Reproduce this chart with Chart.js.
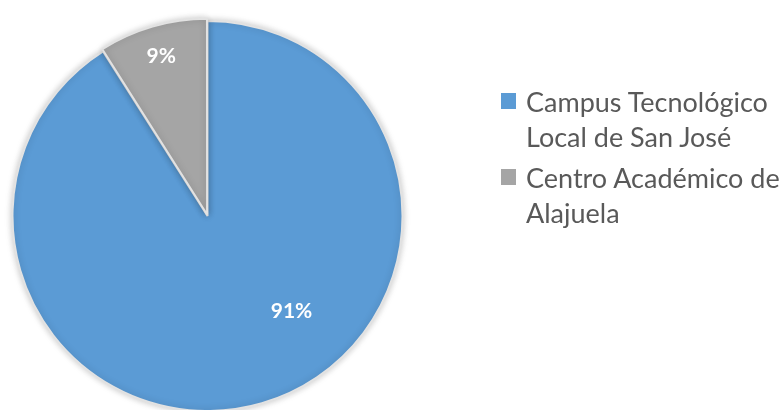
<!DOCTYPE html>
<html>
<head>
<meta charset="utf-8">
<script src="https://cdn.jsdelivr.net/npm/chart.js@4.4.1/dist/chart.umd.min.js"></script>
<style>
  html, body { margin: 0; padding: 0; background: #fff; }
  #wrap { position: relative; width: 783px; height: 410px; overflow: hidden; }
  #c { position: absolute; left: 0; top: 0; }
  #legend { position: absolute; left: 501px; top: 84px; font-family: Lato, "Open Sans", sans-serif; font-size: 27px; color: #595959; line-height: 35px; white-space: nowrap; }
  .item { position: relative; padding-left: 25px; margin-bottom: 6px; }
  .sw { position: absolute; left: 0; top: 9px; width: 15px; height: 16px; }
</style>
</head>
<body>
<div id="wrap">
  <canvas id="c" width="783" height="410"></canvas>
  <div id="legend"></div>
</div>
<script>
const categories = ["Campus Tecnológico Local de San José", "Centro Académico de Alajuela"];
const legendLines = [["Campus Tecnológico", "Local de San José"], ["Centro Académico de", "Alajuela"]];
const percentages = [91, 9];
const colors = ["#5b9bd5", "#a5a5a5"];

const legend = document.getElementById('legend');
categories.forEach((cat, i) => {
  const d = document.createElement('div');
  d.className = 'item';
  d.innerHTML = '<span class="sw" style="background:' + colors[i] + '"></span>' + legendLines[i].join('<br>');
  legend.appendChild(d);
});

const labelPlacement = [ { r: 0.65, dAngle: -25.3 }, { r: 0.82, dAngle: 0 } ];

const shadow = {
  id: 'shadow',
  beforeDatasetDraw(chart) {
    const ctx = chart.ctx;
    ctx.save();
    ctx.shadowColor = 'rgba(0,0,0,0.22)';
    ctx.shadowBlur = 7;
  },
  afterDatasetDraw(chart) {
    chart.ctx.restore();
  }
};

const pctLabels = {
  id: 'pctLabels',
  afterDatasetsDraw(chart) {
    const ctx = chart.ctx;
    const meta = chart.getDatasetMeta(0);
    ctx.save();
    ctx.fillStyle = '#ffffff';
    ctx.font = 'bold 21px Lato, "Open Sans", sans-serif';
    ctx.textAlign = 'center';
    ctx.textBaseline = 'middle';
    meta.data.forEach((arc, i) => {
      const p = arc.getProps(['x', 'y', 'startAngle', 'endAngle', 'outerRadius'], true);
      const mid = (p.startAngle + p.endAngle) / 2;
      const off = arc.options.offset || 0;
      const cx = p.x + Math.cos(mid) * off;
      const cy = p.y + Math.sin(mid) * off;
      const a = mid + labelPlacement[i].dAngle * Math.PI / 180;
      const rr = p.outerRadius * labelPlacement[i].r;
      ctx.fillText(percentages[i] + '%', cx + Math.cos(a) * rr, cy + Math.sin(a) * rr);
    });
    ctx.restore();
  }
};

new Chart(document.getElementById('c'), {
  type: 'pie',
  data: {
    labels: categories,
    datasets: [{
      data: percentages,
      backgroundColor: colors,
      borderColor: '#e2e2e2',
      borderWidth: 2,
      offset: [0, 6],
      hoverOffset: 0,
      clip: false
    }]
  },
  options: {
    responsive: false,
    animation: false,
    radius: 195,
    rotation: 0,
    layout: { padding: { left: 0, right: 368, top: 22, bottom: 0 } },
    plugins: { legend: { display: false }, tooltip: { enabled: false } }
  },
  plugins: [shadow, pctLabels]
});
</script>
</body>
</html>
